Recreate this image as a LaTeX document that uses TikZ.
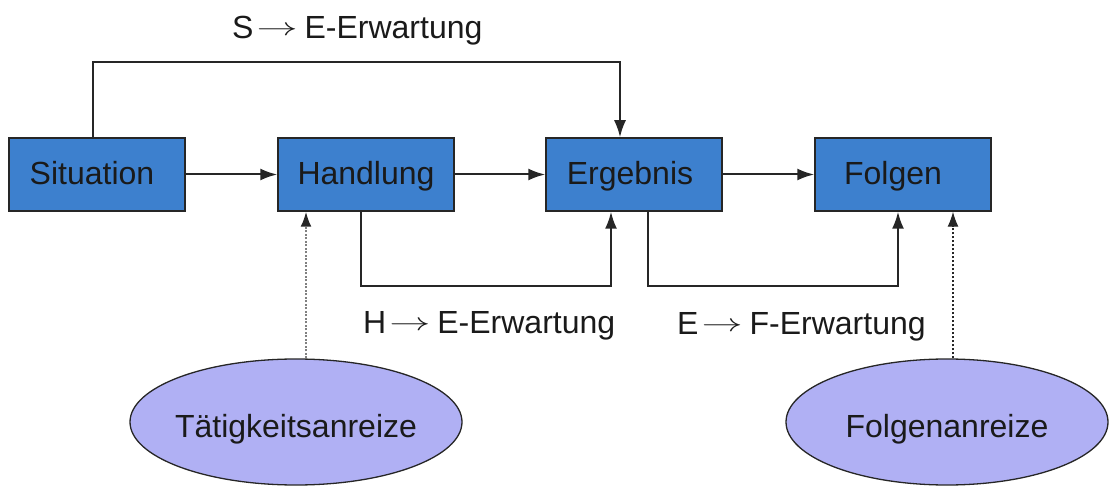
\documentclass[tikz,border=0pt]{standalone}
\usepackage{fontspec}
\setmainfont{Liberation Sans}
\usetikzlibrary{arrows.meta,shapes.geometric}
\definecolor{boxblue}{HTML}{3D80CE}
\definecolor{ellfill}{HTML}{B0B0F4}
\definecolor{ink}{HTML}{1A1A1A}
\definecolor{linec}{HTML}{262626}
\newcommand{\longarr}{\hspace{3pt}\raisebox{3pt}{\scalebox{1.65}[1]{$\rightarrow$}}\hspace{7pt}}
\begin{document}
\begin{tikzpicture}[x=1pt,y=-1pt,
  every node/.style={font=\fontsize{32}{38}\selectfont, text=ink},
  boxnode/.style={draw=linec, line width=1.5pt, fill=boxblue, minimum width=176pt, minimum height=73pt, inner sep=0pt, text height=28pt, text depth=7pt},
  ellnode/.style={ellipse, draw=linec, line width=1.3pt, fill=ellfill, inner sep=0pt, text height=30pt, text depth=0pt},
  lbl/.style={anchor=base west, inner sep=0pt},
  conn/.style={draw=linec, line width=2pt, -{Latex[length=17pt,width=12pt]}},
  dotg/.style={draw=gray, line width=2pt, dash pattern=on 2pt off 1.5pt, -{Latex[length=15pt,width=11pt,fill=linec,color=linec]}},
  dotk/.style={draw=linec, line width=1.2pt, dash pattern=on 2pt off 2pt, -{Latex[length=15pt,width=11pt]}}
]
\useasboundingbox (0,0) rectangle (1109,486);

\node[boxnode] (sit) at (97,174.5) {Situation\hspace*{10pt}};
\node[boxnode] (han) at (366,174.5) {Handlung};
\node[boxnode] (erg) at (634,174.5) {Ergebnis\hspace*{8pt}};
\node[boxnode] (fol) at (903,174.5) {Folgen\hspace*{20pt}};

\node[ellnode, minimum width=332pt, minimum height=126pt] (tae) at (296,422) {\makebox[0pt]{Tätigkeitsanreize}};
\node[ellnode, minimum width=322pt, minimum height=126pt] (fan) at (947,422) {\makebox[0pt]{Folgenanreize}};

\node[lbl] (lse) at (232,39) {S\longarr E-Erwartung};
\node[lbl] (lhe) at (363,334) {H\longarr E-Erwartung};
\node[lbl] (lef) at (677,335) {E\longarr F-Erwartung};

\draw[conn] (sit.east) -- (han.west);
\draw[conn] (han.east) -- (erg.west);
\draw[conn] (erg.east) -- (fol.west);

\draw[conn] ([xshift=-4pt]sit.north) -- ++(0,-75) -| ([xshift=-14pt]erg.north);
\draw[conn] ([xshift=-5pt]han.south) -- ++(0,74.5) -| ([xshift=-23pt]erg.south);
\draw[conn] ([xshift=14pt]erg.south) -- ++(0,74.5) -| ([xshift=-5pt]fol.south);

\coordinate (hd) at ([xshift=-60pt]han.south);
\coordinate (fd) at ([xshift=50pt]fol.south);
\draw[dotg] (hd |- tae.north) -- (hd);
\draw[dotk] (fd |- fan.north) -- (fd);
\end{tikzpicture}
\end{document}
